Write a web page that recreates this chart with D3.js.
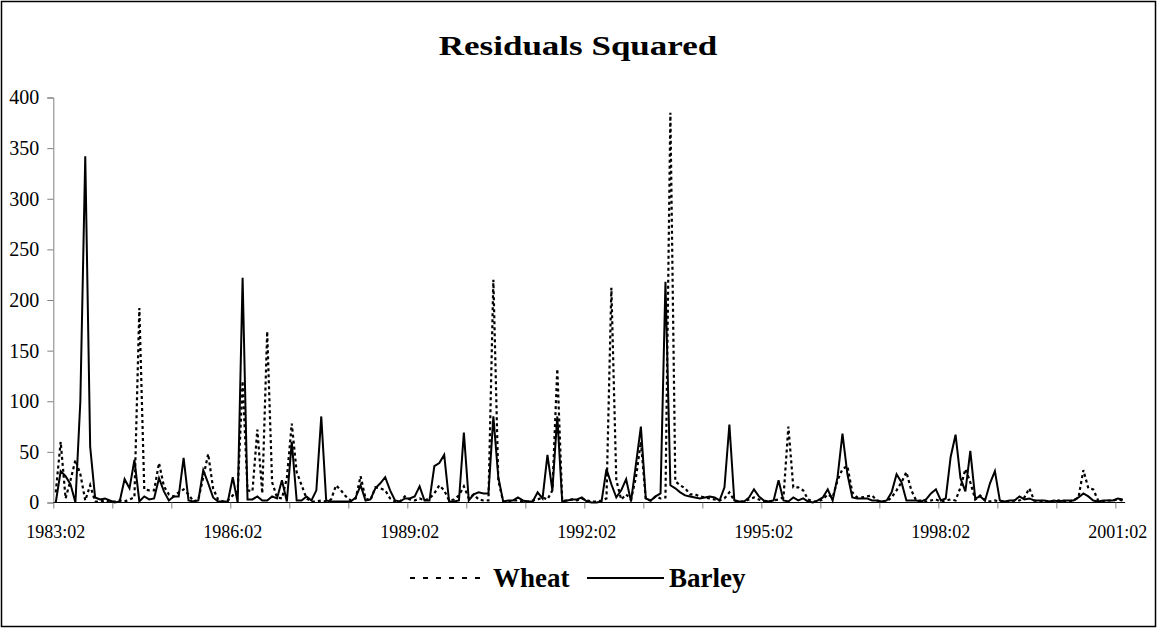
<!DOCTYPE html>
<html><head><meta charset="utf-8">
<script src="https://cdn.jsdelivr.net/npm/d3@7/dist/d3.min.js"></script>
<style>body{margin:0;background:#fff}svg{display:block}</style>
</head><body>
<svg id="chart" width="1157" height="628"></svg>
<script>
// Monthly observations 1983:02 .. 2001:03
const startYear = 1983, startMonth = 2;
const wheat = [10,60,4,22,42,28,2,17,1,1,2,1,1,2,1,3,5,192,13,12,12,39,16,8,6,10,13,8,1,3,25,48,14,3,1,2,7,11,120,12,11,72,9,169,20,5,4,24,78,30,17,4,1,1,2,1,3,17,12,6,2,4,26,4,2,15,14,12,4,1,1,6,3,2,4,2,4,9,17,12,2,3,7,16,4,8,3,2,2,220,22,1,1,2,2,1,1,2,3,5,3,12,132,2,2,3,2,4,2,1,1,2,4,212,22,3,8,3,25,60,3,2,6,4,5,385,21,17,14,8,8,6,5,4,3,2,4,10,2,1,1,3,5,3,1,1,2,3,5,75,15,15,12,3,1,1,3,8,5,22,33,36,10,5,5,6,7,2,1,1,5,12,20,30,12,2,2,1,2,3,1,2,3,2,15,33,20,3,7,2,1,2,1,1,1,2,2,5,14,2,1,2,1,1,2,1,1,2,5,32,14,13,2,1,2,2,3,2];
const barley = [0,31,26,18,0,100,342,55,5,3,4,2,0,1,23,14,42,1,6,3,4,24,11,2,6,6,44,2,1,2,32,19,5,1,1,1,25,0,222,3,3,6,2,2,6,4,22,1,60,2,2,6,2,12,85,2,1,1,1,1,1,5,17,2,3,14,19,25,12,2,1,4,4,6,16,2,2,36,39,47,1,1,2,69,2,8,10,9,9,85,25,1,2,2,5,2,1,1,10,4,47,12,85,1,2,3,3,5,1,0,0,1,33,18,5,12,23,1,38,75,4,2,6,9,218,17,14,10,7,6,5,4,5,6,5,2,15,77,2,1,1,5,13,6,2,1,2,22,2,1,5,2,4,1,0,2,5,13,2,25,68,28,5,4,4,4,2,2,1,2,10,28,20,2,2,2,1,3,9,13,2,4,45,67,24,11,51,4,6,2,19,31,2,1,2,2,6,3,4,2,2,2,1,2,1,2,2,2,5,9,6,2,1,2,2,2,4,3];
const yTicks = [0,50,100,150,200,250,300,350,400];
const tickEvery = 12, labelEvery = 36;
const titleText = "Residuals Squared";
const seriesNames = ["Wheat","Barley"];

(function () {
const n = wheat.length;
const labels = d3.range(n).map(i => {
  const m = startMonth - 1 + i;
  const yr = startYear + Math.floor(m / 12);
  const mm = (m % 12) + 1;
  return yr + ":" + String(mm).padStart(2, "0");
});

const svg = d3.select("#chart");
const W = 1157, H = 628;
const pL = 53.3, pR = 1125.2, pT = 97.5, pB = 502.5;
const font = "'Liberation Serif', 'Times New Roman', serif";

svg.append("rect").attr("x", 1.5).attr("y", 1.5).attr("width", W - 3).attr("height", H - 3)
  .attr("fill", "#fff").attr("stroke", "#000").attr("stroke-width", 1.5);

const x = d3.scaleLinear().domain([0, n]).range([pL, pR]);
const y = d3.scaleLinear().domain([0, 400]).range([pB, pT]);

// Y axis
const yAxis = d3.axisLeft(y).tickValues(yTicks).tickSize(6).tickPadding(8);
const gy = svg.append("g").attr("transform", `translate(${pL},0)`).call(yAxis);
gy.select(".domain").attr("stroke", "#808080");
gy.selectAll(".tick line").attr("stroke", "#808080");
gy.selectAll(".tick text").attr("font-family", font).attr("font-size", 20).attr("fill", "#000");

// X axis: tick marks at category boundaries, labels at category centres
const tickVals = d3.range(0, n + 1, tickEvery);
const xAxis = d3.axisBottom(x).tickValues(tickVals).tickSize(6).tickFormat("");
const gx = svg.append("g").attr("transform", `translate(0,${pB})`).call(xAxis);
gx.select(".domain").attr("stroke", "#000").attr("d", `M${pL},0H${pR}`);
gx.selectAll(".tick line").attr("stroke", "#808080");

const labIdx = d3.range(0, n, labelEvery);
svg.append("g").selectAll("text").data(labIdx).join("text")
  .attr("x", i => x(i + 0.5)).attr("y", 538)
  .attr("text-anchor", "middle").attr("font-family", font).attr("font-size", 18)
  .text(i => labels[i]);

// Lines
const line = d3.line().x((d, i) => x(i + 0.5)).y(d => y(d));
svg.append("path").datum(barley).attr("d", line).attr("fill", "none")
  .attr("stroke", "#000").attr("stroke-width", 2).attr("stroke-linejoin", "miter");
svg.append("path").datum(wheat).attr("d", line).attr("fill", "none")
  .attr("stroke", "#000").attr("stroke-width", 2.2).attr("stroke-dasharray", "3,3");

// Title (slightly widened, as in the reference rendering)
svg.append("text").attr("transform", "translate(578,55) scale(1.25,1)").attr("text-anchor", "middle")
  .attr("font-family", font).attr("font-weight", "bold").attr("font-size", 28).text(titleText);

// Legend
const ly = 578;
const leg = svg.append("g");
leg.append("line").attr("x1", 410).attr("x2", 487).attr("y1", ly).attr("y2", ly)
  .attr("stroke", "#000").attr("stroke-width", 2.2).attr("stroke-dasharray", "5,8");
leg.append("text").attr("x", 493).attr("y", ly + 9).attr("font-family", font)
  .attr("font-weight", "bold").attr("font-size", 27).text(seriesNames[0]);
leg.append("line").attr("x1", 587).attr("x2", 664).attr("y1", ly).attr("y2", ly)
  .attr("stroke", "#000").attr("stroke-width", 2);
leg.append("text").attr("x", 669).attr("y", ly + 9).attr("font-family", font)
  .attr("font-weight", "bold").attr("font-size", 27).text(seriesNames[1]);
})();
</script>
</body></html>
